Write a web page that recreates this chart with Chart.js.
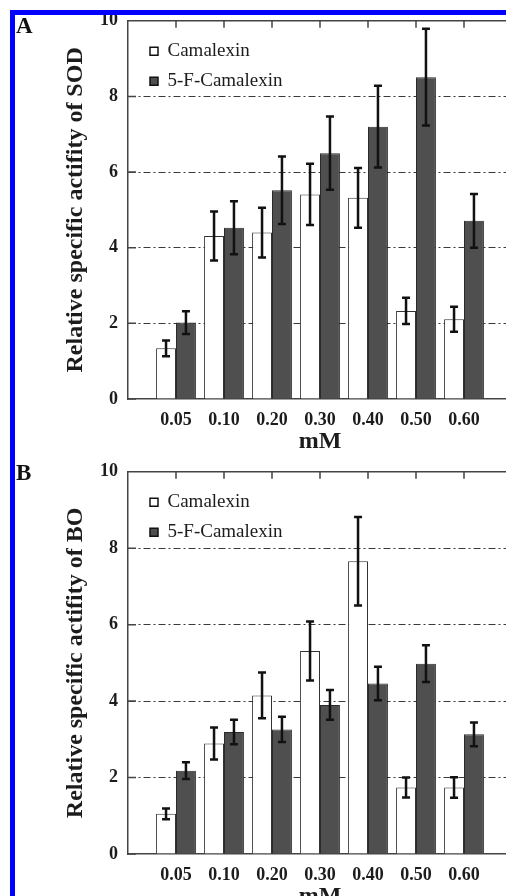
<!DOCTYPE html>
<html>
<head>
<meta charset="utf-8">
<title>Relative specific activity</title>
<script src="https://cdn.jsdelivr.net/npm/chart.js@4.4.1/dist/chart.umd.min.js"></script>
<style>
	html, body { margin: 0; padding: 0; background: #fff; }
	body { width: 506px; height: 896px; overflow: hidden; position: relative; }
	.panel { position: absolute; left: 0; width: 523px; }
	#boxA { top: 0; height: 454px; }
	#boxB { top: 451px; height: 458px; }
	.tag { position: absolute; font: bold 23px "Liberation Serif", serif; line-height: 1; color: #111; }
	.frame { position: absolute; background: #0000ff; z-index: 5; }
</style>
</head>
<body>
<div class="panel" id="boxA"><canvas id="chartA"></canvas></div>
<div class="panel" id="boxB"><canvas id="chartB"></canvas></div>
<div class="tag" style="left:16px;top:14px">A</div>
<div class="tag" style="left:16px;top:461px">B</div>
<div class="frame" style="left:10px;top:10px;width:496px;height:5px"></div>
<div class="frame" style="left:10px;top:10px;width:5px;height:886px"></div>

<script>
'use strict';
var categories = ['0.05', '0.10', '0.20', '0.30', '0.40', '0.50', '0.60'];
var seriesNames = ['Camalexin', '5-F-Camalexin'];
var yTicks = [0, 2, 4, 6, 8, 10];

// A: SOD
var sodCamalexin = [1.34, 4.31, 4.40, 5.41, 5.32, 2.33, 2.11];
var sodCamalexinErr = [0.21, 0.65, 0.66, 0.81, 0.79, 0.35, 0.33];
var sodFluoro = [2.02, 4.53, 5.52, 6.50, 7.20, 8.51, 4.71];
var sodFluoroErr = [0.30, 0.70, 0.89, 0.97, 1.08, 1.28, 0.71];

// B: BO
var boCamalexin = [1.05, 2.89, 4.15, 5.31, 7.66, 1.74, 1.74];
var boCamalexinErr = [0.14, 0.42, 0.60, 0.77, 1.16, 0.26, 0.27];
var boFluoro = [2.18, 3.19, 3.26, 3.90, 4.46, 4.98, 3.13];
var boFluoroErr = [0.22, 0.32, 0.33, 0.39, 0.44, 0.48, 0.31];

var serif = "'Liberation Serif', 'Times New Roman', serif";
var ink = '#1c1c1c';

// empty slot at each end of the category axis
function pad(arr, fill) {
	return [fill].concat(arr, [fill]);
}

var errorBars = {
	id: 'errorBars',
	afterDatasetsDraw: function(chart) {
		var ctx = chart.ctx;
		var y = chart.scales.y;
		ctx.save();
		ctx.strokeStyle = '#111';
		ctx.lineWidth = 2.5;
		chart.data.datasets.forEach(function(ds, i) {
			var meta = chart.getDatasetMeta(i);
			meta.data.forEach(function(bar, j) {
				var v = ds.data[j];
				if (v == null) return;
				var e = ds.errors[j];
				var top = y.getPixelForValue(v + e);
				var bot = y.getPixelForValue(v - e);
				ctx.beginPath();
				ctx.moveTo(bar.x, top); ctx.lineTo(bar.x, bot);
				ctx.moveTo(bar.x - 4, top); ctx.lineTo(bar.x + 4, top);
				ctx.moveTo(bar.x - 4, bot); ctx.lineTo(bar.x + 4, bot);
				ctx.stroke();
			});
		});
		ctx.restore();
	}
};

// top frame line and inward tick marks
var frameTicks = {
	id: 'frameTicks',
	afterDraw: function(chart) {
		var ctx = chart.ctx, a = chart.chartArea;
		var x = chart.scales.x, y = chart.scales.y;
		ctx.save();
		ctx.strokeStyle = '#444';
		ctx.lineWidth = 1.5;
		ctx.beginPath();
		ctx.moveTo(a.left, a.top);
		ctx.lineTo(a.right, a.top);
		for (var i = 1; i < x.ticks.length - 1; i++) {
			var px = x.getPixelForTick(i);
			ctx.moveTo(px, a.top);
			ctx.lineTo(px, a.top + 7);
		}
		for (var k = 0; k < y.ticks.length; k++) {
			var py = y.getPixelForTick(k);
			ctx.moveTo(a.left, py);
			ctx.lineTo(a.left + 8, py);
		}
		ctx.stroke();
		ctx.restore();
	}
};

var legendNudge = {
	id: 'legendNudge',
	afterLayout: function(chart) {
		chart.legend.left = chart.chartArea.left + 11;
		chart.legend.top = chart.chartArea.top + 10;
	}
};

function makeChart(id, yTitle, cam, camErr, flu, fluErr) {
	var ctx = document.getElementById(id);
	return new Chart(ctx, {
		type: 'bar',
		data: {
			labels: pad(categories, ''),
			datasets: [{
				label: seriesNames[0],
				data: pad(cam, null),
				errors: pad(camErr, 0),
				backgroundColor: '#ffffff',
				borderColor: '#333333',
				borderWidth: 1
			}, {
				label: seriesNames[1],
				data: pad(flu, null),
				errors: pad(fluErr, 0),
				backgroundColor: '#4f4f4f',
				borderColor: '#2a2a2a',
				borderWidth: 1
			}]
		},
		options: {
			responsive: true,
			maintainAspectRatio: false,
			animation: false,
			categoryPercentage: 0.83,
			barPercentage: 1,
			layout: { padding: { top: 17, right: 10, bottom: 0, left: 0 } },
			plugins: {
				legend: {
					position: 'chartArea',
					align: 'start',
					labels: {
						boxWidth: 8,
						boxHeight: 8,
						padding: 11,
						color: ink,
						font: { family: serif, size: 19 },
						generateLabels: function(chart) {
							var items = Chart.defaults.plugins.legend.labels.generateLabels(chart);
							items.forEach(function(it) {
								it.lineWidth = 1.5;
								it.strokeStyle = '#111';
							});
							return items;
						}
					}
				},
				tooltip: { enabled: false }
			},
			scales: {
				x: {
					offset: false,
					grid: { display: false, drawTicks: false, offset: false },
					border: { display: true, color: '#444', width: 1.5 },
					ticks: {
						color: ink,
						padding: 11,
						autoSkip: false,
						maxRotation: 0,
						font: { family: serif, size: 18, weight: 'bold' }
					},
					title: {
						display: true,
						text: 'mM',
						color: ink,
						padding: 0,
						font: { family: serif, size: 24, weight: 'bold', lineHeight: 1 }
					},
					afterFit: function(scale) { scale.height = 55; }
				},
				y: {
					min: yTicks[0],
					max: yTicks[yTicks.length - 1],
					afterBuildTicks: function(scale) {
						scale.ticks = yTicks.map(function(v) { return { value: v }; });
					},
					grid: {
						drawTicks: false,
						lineWidth: 1,
						color: function(c) {
							var v = c.tick && c.tick.value;
							return (v === 0 || v === 10) ? 'rgba(0,0,0,0)' : '#3a3a3a';
						}
					},
					border: { display: true, color: '#444', width: 1.5, dash: [7, 3, 2, 3] },
					ticks: {
						color: ink,
						padding: 10,
						font: { family: serif, size: 18, weight: 'bold' }
					},
					title: {
						display: true,
						text: yTitle,
						color: ink,
						padding: { top: 64, bottom: 0 },
						font: { family: serif, size: 24, weight: 'bold', lineHeight: 1 }
					},
					afterFit: function(scale) { scale.width = 128; }
				}
			}
		},
		plugins: [errorBars, frameTicks, legendNudge]
	});
}

makeChart('chartA', 'Relative specific actifity of SOD', sodCamalexin, sodCamalexinErr, sodFluoro, sodFluoroErr);
makeChart('chartB', 'Relative specific actifity of BO', boCamalexin, boCamalexinErr, boFluoro, boFluoroErr);
</script>
</body>
</html>
